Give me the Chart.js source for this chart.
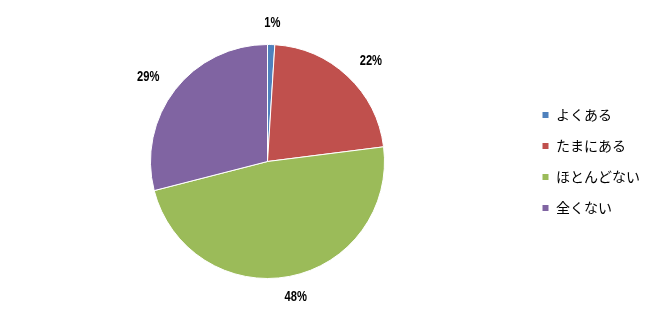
<!DOCTYPE html>
<html>
<head>
<meta charset="utf-8">
<script src="https://cdn.jsdelivr.net/npm/chart.js@4"></script>
<style>
    html, body { margin: 0; padding: 0; background: #fff; }
    #wrap { width: 662px; height: 320px; position: relative; }
</style>
</head>
<body>
<div id="wrap"><canvas id="pie"></canvas></div>
<script>
// 回答の分布
const categories = ['よくある', 'たまにある', 'ほとんどない', '全くない'];
const percents = [1, 22, 48, 29];
const sliceColors = ['#4F81BD', '#C0504D', '#9BBB59', '#8064A2'];

// 円の外側にパーセント表示（細長い字体）
const outsideLabels = {
    id: 'outsideLabels',
    afterDatasetsDraw(chart) {
        const ctx = chart.ctx;
        const meta = chart.getDatasetMeta(0);
        ctx.save();
        ctx.font = 'bold 14px "Liberation Sans", sans-serif';
        ctx.fillStyle = '#000';
        ctx.textAlign = 'center';
        ctx.textBaseline = 'middle';
        meta.data.forEach((arc, i) => {
            const mid = (arc.startAngle + arc.endAngle) / 2;
            const x = arc.x + Math.cos(mid) * (arc.outerRadius + 34);
            const y = arc.y + Math.sin(mid) * (arc.outerRadius + 21);
            ctx.save();
            ctx.translate(x, y);
            ctx.scale(0.8, 1);
            ctx.fillText(percents[i] + '%', 0, 0);
            ctx.restore();
        });
        ctx.restore();
    }
};

new Chart(document.getElementById('pie'), {
    type: 'pie',
    data: {
        labels: categories,
        datasets: [{
            data: percents,
            backgroundColor: sliceColors,
            borderColor: '#ffffff',
            borderWidth: 1
        }]
    },
    options: {
        responsive: true,
        maintainAspectRatio: false,
        animation: false,
        layout: {
            padding: { top: 44, bottom: 41, left: 10, right: 12 }
        },
        plugins: {
            legend: {
                position: 'right',
                labels: {
                    boxWidth: 7,
                    boxHeight: 7,
                    padding: 17,
                    color: '#000',
                    font: { family: '"Noto Sans CJK JP"', size: 14 }
                }
            },
            tooltip: { enabled: false }
        }
    },
    plugins: [outsideLabels]
});
</script>
</body>
</html>
